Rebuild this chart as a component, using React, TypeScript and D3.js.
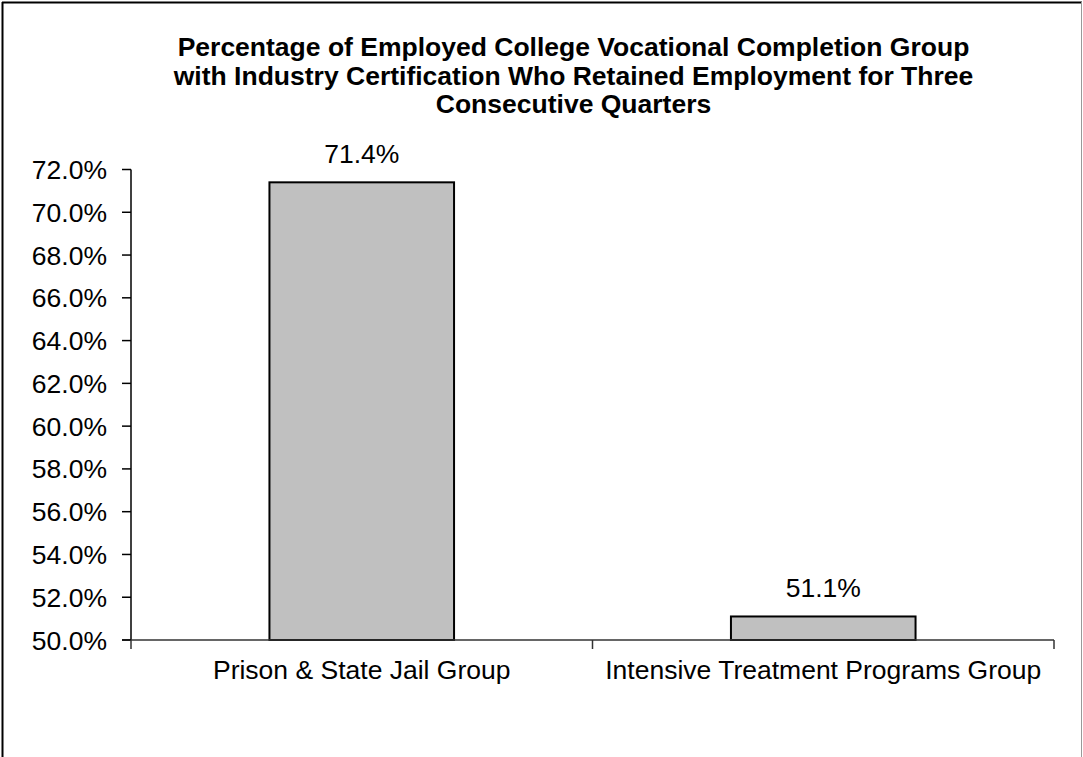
import React from "react";
import * as d3 from "d3";

const titleLines = [
  "Percentage of Employed College Vocational Completion Group",
  "with Industry Certification Who Retained Employment for Three",
  "Consecutive Quarters",
];
const categories = ["Prison & State Jail Group", "Intensive Treatment Programs Group"];
const values = [71.4, 51.1];
const yTicks = [50, 52, 54, 56, 58, 60, 62, 64, 66, 68, 70, 72];

const W = 1083;
const H = 757;
const plot = { left: 131, right: 1054, top: 169.5, bottom: 640 };

export default function App() {
  const y = d3.scaleLinear().domain([50, 72]).range([plot.bottom, plot.top]);
  const x = d3
    .scaleBand<string>()
    .domain(categories)
    .range([plot.left, plot.right])
    .paddingInner(0.6)
    .paddingOuter(0.3);
  const band = d3.scaleBand<string>().domain(categories).range([plot.left, plot.right]);
  const font = "Arial, 'Liberation Sans', Helvetica, sans-serif";
  const fs = 26.5;

  return (
    <svg
      width={W}
      height={H}
      style={{ position: "absolute", left: 0, top: 0, background: "#fff" }}
      fontFamily={font}
    >
      <rect x={0} y={0} width={W} height={H} fill="#fff" />
      <line x1={2.5} y1={2} x2={2.5} y2={H} stroke="#000" strokeWidth={2} />
      <line x1={2} y1={2.5} x2={1082} y2={2.5} stroke="#000" strokeWidth={2} />
      <line x1={1081.5} y1={2} x2={1081.5} y2={H} stroke="#999" strokeWidth={1} />

      {titleLines.map((t, i) => (
        <text
          key={i}
          x={573.5}
          y={56 + i * 28.5}
          textAnchor="middle"
          fontWeight="bold"
          fontSize={26.5}
          fill="#000"
        >
          {t}
        </text>
      ))}

      {values.map((v, i) => (
        <rect
          key={i}
          x={x(categories[i])!}
          y={y(v)}
          width={x.bandwidth()}
          height={y(50) - y(v)}
          fill="#c0c0c0"
          stroke="#000"
          strokeWidth={2}
        />
      ))}

      {values.map((v, i) => (
        <text
          key={"v" + i}
          x={x(categories[i])! + x.bandwidth() / 2}
          y={y(v) - 19}
          textAnchor="middle"
          fontSize={fs}
          fill="#000"
        >
          {v.toFixed(1) + "%"}
        </text>
      ))}

      <line x1={plot.left} y1={plot.top} x2={plot.left} y2={plot.bottom} stroke="#000" strokeWidth={1.5} />
      <line x1={plot.left - 9} y1={plot.bottom} x2={plot.right} y2={plot.bottom} stroke="#333" strokeWidth={1.5} />
      {yTicks.map((t) => (
        <g key={t}>
          <line x1={plot.left - 9} x2={plot.left} y1={y(t)} y2={y(t)} stroke="#000" strokeWidth={1.5} />
          <text x={107} y={y(t) + 9.5} textAnchor="end" fontSize={fs} fill="#000">
            {t.toFixed(1) + "%"}
          </text>
        </g>
      ))}
      {[...categories.map((c) => band(c)!), plot.right].map((px, i) => (
        <line key={"xt" + i} x1={px} x2={px} y1={plot.bottom} y2={plot.bottom + 9} stroke="#333" strokeWidth={1.5} />
      ))}
      {categories.map((c) => (
        <text
          key={c}
          x={band(c)! + band.bandwidth() / 2}
          y={679}
          textAnchor="middle"
          fontSize={fs}
          fill="#000"
        >
          {c}
        </text>
      ))}
    </svg>
  );
}
